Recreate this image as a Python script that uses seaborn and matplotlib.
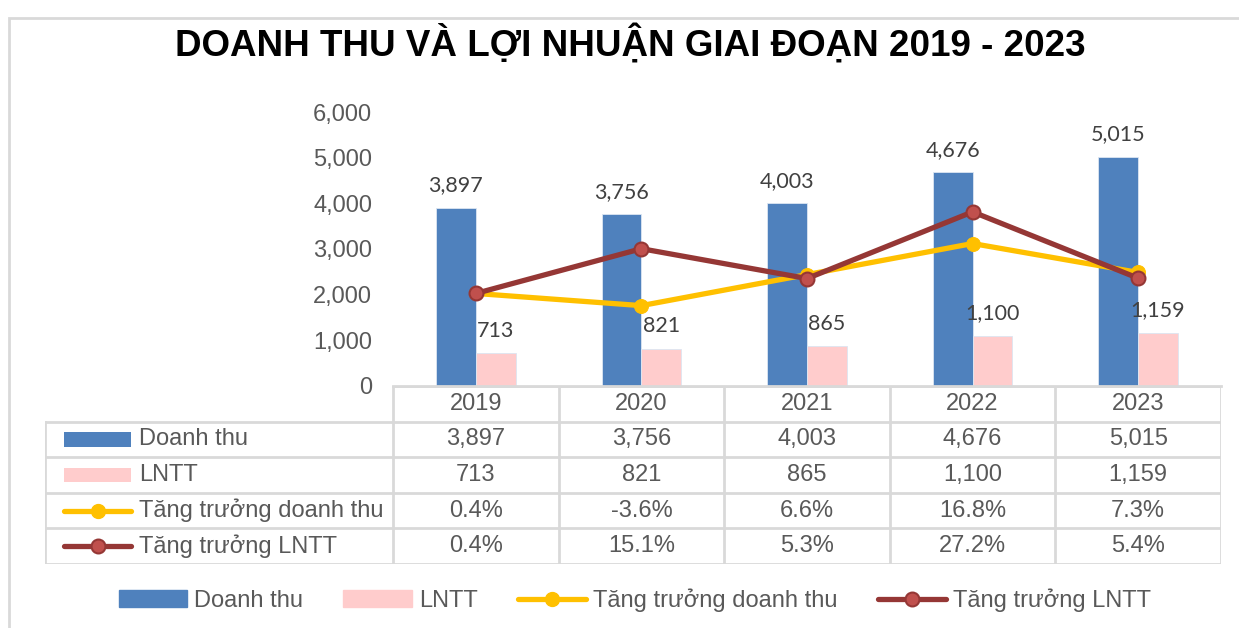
import numpy as np
import pandas as pd
import matplotlib
matplotlib.use('Agg')
import matplotlib.pyplot as plt
import matplotlib.patches as mpatches
import matplotlib.lines as mlines
import seaborn as sns

# Data
years = ['2019', '2020', '2021', '2022', '2023']
doanh_thu = [3897, 3756, 4003, 4676, 5015]
lntt = [713, 821, 865, 1100, 1159]
tt_doanh_thu = [0.4, -3.6, 6.6, 16.8, 7.3]
tt_lntt = [0.4, 15.1, 5.3, 27.2, 5.4]

series_names = ['Doanh thu', 'LNTT', 'Tăng trưởng doanh thu', 'Tăng trưởng LNTT']

BLUE = '#4F81BD'
PINK = '#FFCCCC'
YELLOW = '#FFC000'
DRED = '#953735'
DRED_FILL = '#C0504D'
TXT = '#595959'
GRID = '#D9D9D9'

sns.set_theme(style='white')
plt.rcParams['font.family'] = ['Liberation Sans', 'DejaVu Sans']

W, H = 1239, 628
fig = plt.figure(figsize=(W / 100, H / 100), dpi=100)


def fx(px):
    return px / W


def fy(py):
    return 1 - py / H


# outer frame
fig.patches.append(mpatches.Rectangle((fx(9), fy(H + 20)), 2, fy(18) - fy(H + 20),
                                      transform=fig.transFigure, fill=False,
                                      edgecolor='#D9D9D9', lw=2))

fig.text(fx(630), fy(44), 'DOANH THU VÀ LỢI NHUẬN GIAI ĐOẠN 2019 - 2023',
         ha='center', va='center', fontsize=26.5, fontweight='bold', color='black')

# main axes
x0, x1, ytop, ybot = 393, 1221, 112, 386
ax = fig.add_axes([fx(x0), fy(ybot), fx(x1) - fx(x0), fy(ytop) - fy(ybot)])

df = pd.DataFrame({
    'Năm': years * 2,
    'Giá trị': doanh_thu + lntt,
    'Chỉ tiêu': ['Doanh thu'] * 5 + ['LNTT'] * 5,
})
sns.barplot(data=df, x='Năm', y='Giá trị', hue='Chỉ tiêu', palette=[BLUE, PINK],
            saturation=1, width=0.48, gap=0, ax=ax, legend=False,
            edgecolor='#DCE6F2', linewidth=0.6)

for cont in ax.containers:
    ax.bar_label(cont, labels=[f'{v:,.0f}' for v in cont.datavalues], padding=9,
                 fontsize=15.5, color='#404040', family=['Lato', 'DejaVu Sans'])

ax.set_xlim(-0.5, 4.5)
ax.set_ylim(0, 6000)
ax.set_yticks(np.arange(0, 6001, 1000))
ax.set_yticklabels([f'{v:,.0f}' for v in np.arange(0, 6001, 1000)], fontsize=17, color=TXT)
ax.set_xticks([])
ax.set_xlabel('')
ax.set_ylabel('')
ax.tick_params(axis='y', length=0, pad=15)
for s in ['top', 'right', 'left']:
    ax.spines[s].set_visible(False)
ax.spines['bottom'].set_color(GRID)
ax.spines['bottom'].set_linewidth(2)
ax.patch.set_alpha(0)

# growth lines on hidden secondary axis
ax2 = ax.twinx()
ax2.set_ylim(-30, 60)
xs = np.arange(len(years))
sns.lineplot(x=xs, y=tt_doanh_thu, ax=ax2, color=YELLOW, lw=3.8, marker='o',
             markersize=10, markerfacecolor=YELLOW, markeredgecolor=YELLOW, zorder=3)
sns.lineplot(x=xs, y=tt_lntt, ax=ax2, color=DRED, lw=3.8, marker='o',
             markersize=10, markerfacecolor=DRED_FILL, markeredgecolor=DRED,
             markeredgewidth=1.5, zorder=4)
ax2.set_axis_off()
ax.set_xlim(-0.5, 4.5)

# data table
tx0, tbot = 45, 564
tax = fig.add_axes([fx(tx0), fy(tbot), fx(x1) - fx(tx0), fy(ybot) - fy(tbot)])
left_lim = -0.5 - (x0 - tx0) * 5 / (x1 - x0)
tax.set_xlim(left_lim, 4.5)
tax.set_ylim(5, 0)
tax.set_axis_off()

lkw = dict(color=GRID, lw=2, solid_capstyle='projecting')
# horizontal lines
tax.plot([-0.5, 4.5], [0, 0], **lkw)
for r in range(1, 6):
    tax.plot([left_lim, 4.5], [r, r], **lkw)
# vertical lines
tax.plot([left_lim, left_lim], [1, 5], **lkw)
for c in np.arange(-0.5, 5, 1):
    tax.plot([c, c], [0, 5], **lkw)

tkw = dict(ha='center', va='center', fontsize=17, color=TXT)
for i, y in enumerate(years):
    tax.text(i, 0.5, y, **tkw)
rows = [
    [f'{v:,.0f}' for v in doanh_thu],
    [f'{v:,.0f}' for v in lntt],
    [f'{v:.1f}%' for v in tt_doanh_thu],
    [f'{v:.1f}%' for v in tt_lntt],
]
for r, vals in enumerate(rows):
    for i, v in enumerate(vals):
        tax.text(i, r + 1.5, v, **tkw)

unit = 5 / (x1 - x0)  # data units per pixel
kx0, kx1 = left_lim + (64 - tx0) * unit, left_lim + (131 - tx0) * unit
for r, name in enumerate(series_names):
    yc = r + 1.5
    if r == 0 or r == 1:
        tax.add_patch(mpatches.Rectangle((kx0, yc - 0.2), kx1 - kx0, 0.4,
                                         color=[BLUE, PINK][r], lw=0))
    elif r == 2:
        tax.plot([kx0, kx1], [yc, yc], color=YELLOW, lw=3.8, solid_capstyle='round')
        tax.plot([(kx0 + kx1) / 2], [yc], 'o', ms=10, color=YELLOW)
    else:
        tax.plot([kx0, kx1], [yc, yc], color=DRED, lw=3.8)
        tax.plot([(kx0 + kx1) / 2], [yc], 'o', ms=10, mfc=DRED_FILL, mec=DRED, mew=1.5)
    tax.text(left_lim + (139 - tx0) * unit, yc, name, ha='left', va='center',
             fontsize=17, color=TXT)

# bottom legend
handles = [
    mpatches.Patch(color=BLUE, label=series_names[0]),
    mpatches.Patch(color=PINK, label=series_names[1]),
    mlines.Line2D([], [], color=YELLOW, lw=3.8, marker='o', ms=10, label=series_names[2]),
    mlines.Line2D([], [], color=DRED, lw=3.8, marker='o', ms=10, mfc=DRED_FILL,
                  mec=DRED, mew=1.5, label=series_names[3]),
]
leg = fig.legend(handles=handles, loc='center', bbox_to_anchor=(fx(635), fy(600)),
                 ncol=4, frameon=False, fontsize=17, handlelength=2.9,
                 handletextpad=0.3, columnspacing=1.7)
for t in leg.get_texts():
    t.set_color(TXT)

fig.savefig('out.png', dpi=100)
